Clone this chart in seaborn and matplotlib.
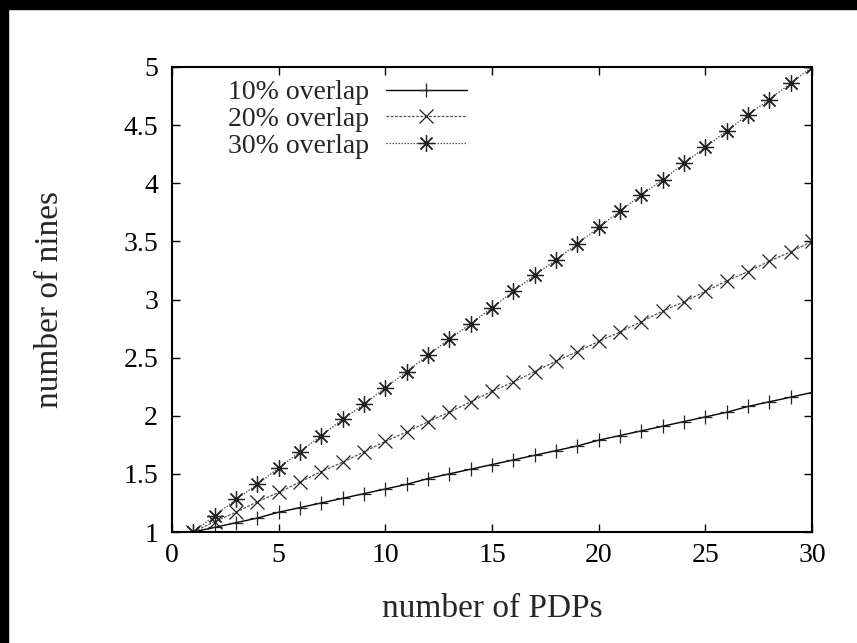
"""
Number of nines vs number of PDPs for three overlap levels (gnuplot-style figure).
"""

import matplotlib
matplotlib.use('Agg')
import matplotlib.pyplot as plt
from matplotlib.patches import Rectangle
from matplotlib.ticker import FormatStrFormatter
import pandas as pd
import seaborn as sns

# ── Data ─────────────────────────────────────────────────────────────────────
PDPS = list(range(1, 31))

NINES_10 = [1.00, 1.04, 1.08, 1.12, 1.17, 1.21, 1.25, 1.29, 1.33, 1.37,
            1.41, 1.46, 1.50, 1.54, 1.58, 1.62, 1.66, 1.70, 1.74, 1.79,
            1.83, 1.87, 1.91, 1.95, 1.99, 2.03, 2.08, 2.12, 2.16, 2.20]
NINES_20 = [1.00, 1.09, 1.17, 1.26, 1.34, 1.43, 1.52, 1.60, 1.69, 1.78,
            1.86, 1.95, 2.03, 2.12, 2.21, 2.29, 2.38, 2.47, 2.55, 2.64,
            2.72, 2.81, 2.90, 2.98, 3.07, 3.16, 3.24, 3.33, 3.41, 3.50]
NINES_30 = [1.00, 1.14, 1.28, 1.41, 1.55, 1.69, 1.83, 1.97, 2.10, 2.24,
            2.38, 2.52, 2.66, 2.79, 2.93, 3.07, 3.21, 3.34, 3.48, 3.62,
            3.76, 3.90, 4.03, 4.17, 4.31, 4.45, 4.59, 4.72, 4.86, 5.00]

LABELS = ['10% overlap', '20% overlap', '30% overlap']
X_TICKS = [0, 5, 10, 15, 20, 25, 30]
Y_TICKS = [1, 1.5, 2, 2.5, 3, 3.5, 4, 4.5, 5]

# ── Style ────────────────────────────────────────────────────────────────────
sns.set_theme(style='ticks')
plt.rcParams['font.family'] = ['Liberation Serif', 'DejaVu Serif']

STYLES = [
    dict(marker='+', linestyle='-', color='black', lw=1.0, ms=10),
    dict(marker='x', linestyle=(0, (2.2, 1.2)), color='#555555', lw=0.9, ms=10),
    dict(marker=(8, 2, 0), linestyle=(0, (1.2, 1.2)), color='#555555', lw=0.9, ms=12),
]

fig = plt.figure(figsize=(8.57, 6.43), dpi=100, facecolor='white')
ax = fig.add_axes([172 / 857, 1 - 532 / 643, 640 / 857, 465 / 643])

for ys, lab, st in zip([NINES_10, NINES_20, NINES_30], LABELS, STYLES):
    df = pd.DataFrame({'pdps': PDPS, 'nines': ys})
    sns.lineplot(data=df, x='pdps', y='nines', ax=ax, label=lab,
                 marker=st['marker'], linestyle=st['linestyle'], color=st['color'],
                 lw=st['lw'], markersize=st['ms'], markeredgewidth=0.9,
                 markeredgecolor='#222222', markerfacecolor='#222222')

ax.set_xlim(0, 30)
ax.set_ylim(1, 5)
ax.set_xticks(X_TICKS)
ax.set_yticks(Y_TICKS)
ax.yaxis.set_major_formatter(FormatStrFormatter('%g'))
ax.tick_params(direction='in', length=6, width=1, top=True, right=True,
               labelsize=20, colors='black')
ax.tick_params(axis='x', pad=8)
ax.tick_params(axis='y', pad=10)
for sp in ax.spines.values():
    sp.set_visible(True)
    sp.set_linewidth(1.5)
    sp.set_color('black')

ax.set_xlabel('number of PDPs', fontsize=24, labelpad=18)
ax.set_ylabel('number of nines', fontsize=24, labelpad=42)

ax.legend(loc='upper left', bbox_to_anchor=(0.088, 0.972), frameon=False,
          markerfirst=False, fontsize=20, handlelength=2.9, handletextpad=0.6,
          labelspacing=0.04, borderpad=0, borderaxespad=0)

# black frame strips on the top and left edges of the screenshot
fig.patches.append(Rectangle((0, 1 - 9 / 643), 1, 9 / 643,
                             transform=fig.transFigure, color='black', zorder=10))
fig.patches.append(Rectangle((0, 0), 8 / 857, 1,
                             transform=fig.transFigure, color='black', zorder=10))

fig.savefig('out.png', dpi=100, facecolor='white')
